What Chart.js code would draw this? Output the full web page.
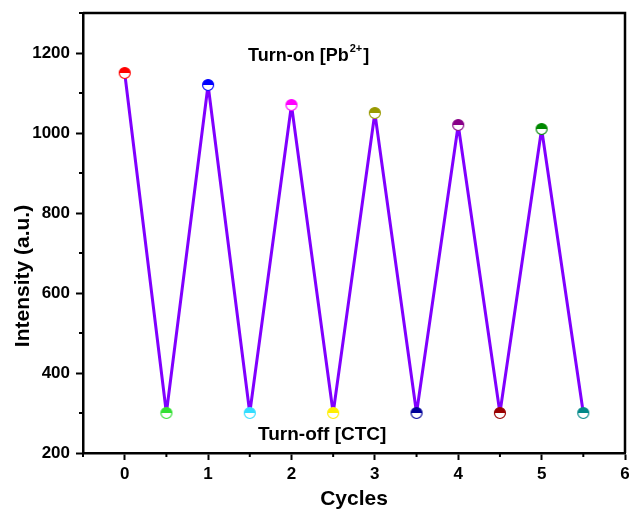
<!DOCTYPE html>
<html lang="en">
<head>
    <meta charset="UTF-8">
    <title>Cycles</title>
    <script src="https://cdn.jsdelivr.net/npm/chart.js"></script>
    <style>
        html, body { margin: 0; padding: 0; background: #fff; overflow: hidden; }
        /* el lienzo es algo mas ancho: el "6" queda cortado como en la figura */
        #wrap { width: 629px; height: 510px; overflow: hidden; }
    </style>
</head>
<body>
    <div id="wrap"><canvas id="chartCycles" width="634" height="510"></canvas></div>

    <script>
        // datos
        const cycles = [0, 0.5, 1, 1.5, 2, 2.5, 3, 3.5, 4, 4.5, 5, 5.5];
        const intensity = [1150, 300, 1120, 300, 1070, 300, 1050, 300, 1020, 300, 1010, 300];
        const markerColors = ['#ff0000', '#33e033', '#0000ff', '#33ddff', '#ff00ff', '#ffee00',
                              '#999900', '#000099', '#880088', '#990000', '#008800', '#008888'];
        const yLabels = [200, 400, 600, 800, 1000, 1200];
        const xLabels = [0, 1, 2, 3, 4, 5, 6];

        const FONT = "'Liberation Sans', Arial, sans-serif";

        // marcador: circulo con la mitad de arriba rellena
        function halfCircle(color) {
            const c = document.createElement('canvas');
            c.width = 14; c.height = 14;
            const g = c.getContext('2d');
            g.fillStyle = '#fff';
            g.beginPath(); g.arc(7, 7, 5.5, 0, Math.PI * 2); g.fill();
            g.fillStyle = color;
            g.beginPath(); g.arc(7, 7, 5.5, Math.PI, 0); g.closePath(); g.fill();
            g.strokeStyle = color; g.lineWidth = 1.2;
            g.beginPath(); g.arc(7, 7, 5.5, 0, Math.PI * 2); g.stroke();
            return c;
        }

        const puntos = cycles.map((x, i) => ({ x: x, y: intensity[i] }));

        // marco, ticks menores, titulo Y y anotaciones
        const extras = {
            id: 'extras',
            afterDraw(chart) {
                const { ctx, chartArea: a, scales } = chart;
                ctx.save();
                ctx.strokeStyle = '#000';
                ctx.lineWidth = 2.5;
                ctx.beginPath();
                ctx.moveTo(a.left, a.top); ctx.lineTo(a.right, a.top); ctx.lineTo(a.right, a.bottom);
                ctx.stroke();

                // ticks menores (cortos)
                ctx.lineWidth = 2;
                scales.x.ticks.forEach(t => {
                    if (Number.isInteger(t.value)) return;
                    const px = scales.x.getPixelForValue(t.value);
                    ctx.beginPath(); ctx.moveTo(px, a.bottom); ctx.lineTo(px, a.bottom + 4); ctx.stroke();
                });
                scales.y.ticks.forEach(t => {
                    if (t.value % 200 === 0) return;
                    const py = scales.y.getPixelForValue(t.value);
                    ctx.beginPath(); ctx.moveTo(a.left, py); ctx.lineTo(a.left - 4, py); ctx.stroke();
                });

                ctx.fillStyle = '#000';
                // titulo eje Y
                ctx.save();
                ctx.translate(29, 276);
                ctx.rotate(-Math.PI / 2);
                ctx.font = 'bold 21px ' + FONT;
                ctx.textAlign = 'center';
                ctx.textBaseline = 'alphabetic';
                ctx.fillText('Intensity (a.u.)', 0, 0);
                ctx.restore();

                // Turn-on [Pb2+]
                ctx.font = 'bold 18px ' + FONT;
                ctx.textBaseline = 'alphabetic';
                ctx.textAlign = 'left';
                let x = 248;
                const base = 61;
                ctx.fillText('Turn-on [Pb', x, base);
                x += ctx.measureText('Turn-on [Pb').width;
                ctx.font = 'bold 11px ' + FONT;
                ctx.fillText('2+', x + 1, base - 9);
                x += ctx.measureText('2+').width + 2;
                ctx.font = 'bold 18px ' + FONT;
                ctx.fillText(']', x, base);

                // Turn-off [CTC]
                ctx.font = 'bold 19px ' + FONT;
                ctx.fillText('Turn-off [CTC]', 258, 440);
                ctx.restore();
            }
        };

        const ctx = document.getElementById('chartCycles').getContext('2d');
        new Chart(ctx, {
            type: 'line',
            data: {
                datasets: [{
                    data: puntos,
                    borderColor: '#8000ff',
                    borderWidth: 3,
                    borderJoinStyle: 'bevel',
                    pointStyle: markerColors.map(halfCircle),
                    pointRadius: 6,
                    pointHoverRadius: 6,
                    tension: 0,
                    fill: false
                }]
            },
            options: {
                responsive: false,
                animation: false,
                events: [],
                layout: { padding: { top: 13, right: 0, left: 0, bottom: 0 } },
                plugins: { legend: { display: false }, tooltip: { enabled: false } },
                scales: {
                    x: {
                        type: 'linear',
                        min: -0.5,
                        max: 6,
                        afterFit(s) { s.height = 57; s.paddingRight = 0; s.paddingLeft = 0; },
                        afterBuildTicks(s) {
                            const t = [];
                            for (let v = -0.5; v <= 6.001; v += 0.5) t.push({ value: v });
                            s.ticks = t;
                        },
                        border: { color: '#000', width: 2.5 },
                        grid: {
                            drawOnChartArea: false,
                            tickLength: 7,
                            tickWidth: 2,
                            tickColor: c => xLabels.includes(c.tick && c.tick.value) ? '#000' : 'rgba(0,0,0,0)'
                        },
                        ticks: {
                            color: '#000',
                            padding: 4,
                            maxRotation: 0,
                            autoSkip: false,
                            font: { family: FONT, size: 17, weight: 'bold' },
                            callback: v => xLabels.includes(v) ? String(v) : ''
                        },
                        title: {
                            display: true,
                            text: 'Cycles',
                            color: '#000',
                            padding: { top: 0, bottom: -2 },
                            font: { family: FONT, size: 21, weight: 'bold' }
                        }
                    },
                    y: {
                        min: 200,
                        max: 1300,
                        afterFit(s) { s.width = 83; s.paddingTop = 0; s.paddingBottom = 0; },
                        border: { color: '#000', width: 2.5 },
                        grid: {
                            drawOnChartArea: false,
                            tickLength: 7,
                            tickWidth: 2,
                            tickColor: c => yLabels.includes(c.tick && c.tick.value) ? '#000' : 'rgba(0,0,0,0)'
                        },
                        ticks: {
                            stepSize: 100,
                            color: '#000',
                            padding: 6,
                            autoSkip: false,
                            font: { family: FONT, size: 17, weight: 'bold' },
                            callback: v => yLabels.includes(v) ? String(v) : ''
                        }
                    }
                }
            },
            plugins: [extras]
        });
    </script>
</body>
</html>
